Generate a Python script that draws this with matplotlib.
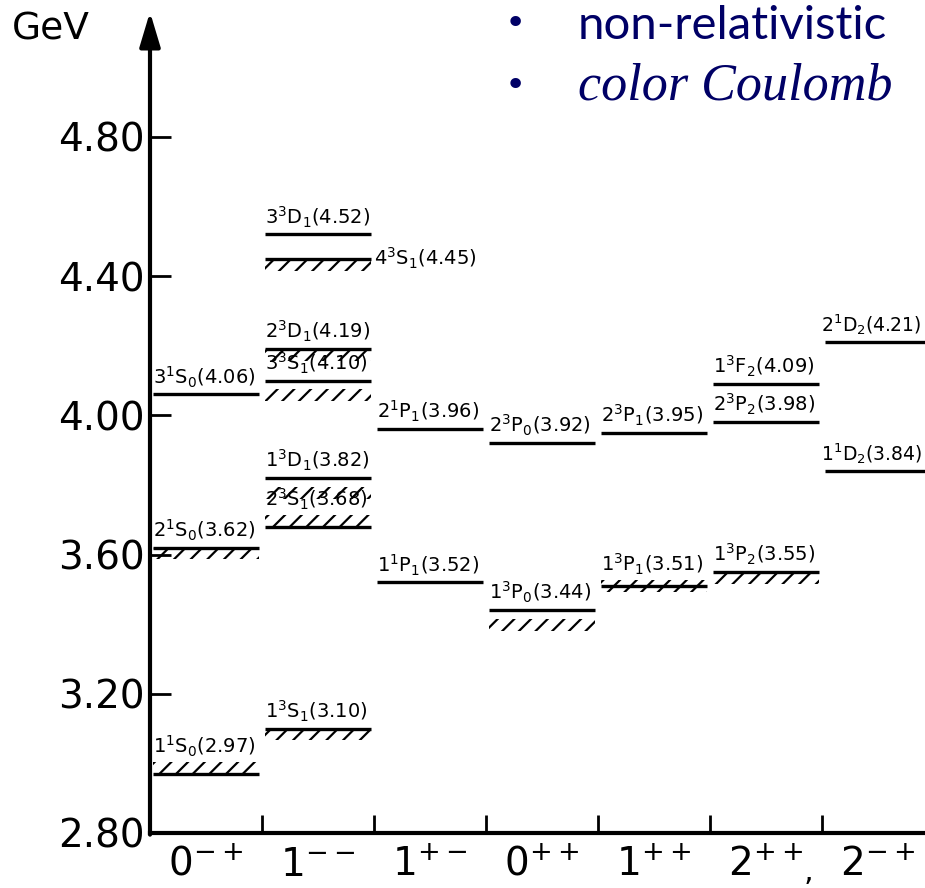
import matplotlib
matplotlib.use("Agg")
import matplotlib.pyplot as plt
from matplotlib.patches import Rectangle

plt.rcParams['font.family'] = ['DejaVu Sans']
plt.rcParams['mathtext.fontset'] = 'dejavusans'
plt.rcParams['hatch.linewidth'] = 1.6

# ---- data ----
categories = ['0$^{-+}$', '1$^{--}$', '1$^{+-}$', '0$^{++}$', '1$^{++}$', '2$^{++}$', '2$^{-+}$']
yticks = [2.80, 3.20, 3.60, 4.00, 4.40, 4.80]
ytick_labels = ['2.80', '3.20', '3.60', '4.00', '4.40', '4.80']

state_col = [0, 0, 0,
             1, 1, 1, 1, 1, 1, 1,
             2, 2,
             3, 3,
             4, 4,
             5, 5, 5,
             6, 6]
state_label = [r'1$^1$S$_0$(2.97)', r'2$^1$S$_0$(3.62)', r'3$^1$S$_0$(4.06)',
               r'1$^3$S$_1$(3.10)', r'2$^3$S$_1$(3.68)', r'1$^3$D$_1$(3.82)', r'3$^3$S$_1$(4.10)',
               r'2$^3$D$_1$(4.19)', r'4$^3$S$_1$(4.45)', r'3$^3$D$_1$(4.52)',
               r'1$^1$P$_1$(3.52)', r'2$^1$P$_1$(3.96)',
               r'1$^3$P$_0$(3.44)', r'2$^3$P$_0$(3.92)',
               r'1$^3$P$_1$(3.51)', r'2$^3$P$_1$(3.95)',
               r'1$^3$P$_2$(3.55)', r'2$^3$P$_2$(3.98)', r'1$^3$F$_2$(4.09)',
               r'1$^1$D$_2$(3.84)', r'2$^1$D$_2$(4.21)']
state_mass = [2.97, 3.62, 4.06,
              3.10, 3.68, 3.82, 4.10, 4.19, 4.45, 4.52,
              3.52, 3.96,
              3.44, 3.92,
              3.51, 3.95,
              3.55, 3.98, 4.09,
              3.84, 4.21]
# experimental band placement relative to the level
state_hatch = ['above', 'below', None,
               'below', 'above', 'below_gap', 'below_gap', 'below', 'below', None,
               None, None,
               'below_gap', None,
               'through', None,
               'below', None, None,
               None, None]
label_side = ['above', 'above', 'above',
              'above', 'above', 'above', 'above', 'above', 'right', 'above',
              'above', 'above',
              'above', 'above',
              'above', 'above',
              'above', 'above', 'above',
              'above', 'above']

# ---- figure ----
W, H = 925, 888
fig = plt.figure(figsize=(W / 100, H / 100), dpi=100)
ax = fig.add_axes([150 / W, 1 - 833 / H, 775 / W, (833 - 12) / H])
ax.set_xlim(0, 6.92)
ax.set_ylim(2.80, 5.159)

band = 0.034
gap = 0.025
for c, lab, m, hk, side in zip(state_col, state_label, state_mass, state_hatch, label_side):
    x0, x1 = c + 0.03, c + 0.97
    ax.plot([x0, x1], [m, m], color='black', lw=2.4, solid_capstyle='butt')
    lab_y = m + 0.014
    if hk is not None:
        if hk == 'above':
            y0 = m
            lab_y = m + band + 0.008
        elif hk == 'below':
            y0 = m - band
        elif hk == 'below_gap':
            y0 = m - gap - band
        else:  # through
            y0 = m - band / 2
            lab_y = m + band / 2 + 0.01
        ax.add_patch(Rectangle((x0, y0), x1 - x0, band, fill=False, hatch='//',
                               lw=0, edgecolor='black'))
    if side == 'above':
        if c == 6:
            ax.text(c - 0.01, lab_y, lab, fontsize=13.5, ha='left', va='bottom')
        else:
            ax.text(c + 0.03, lab_y, lab, fontsize=14, ha='left', va='bottom')
    else:
        ax.text(c + 1.0, m, lab, fontsize=14, ha='left', va='center')

# axes styling
for s in ['top', 'right', 'left']:
    ax.spines[s].set_visible(False)
ax.spines['bottom'].set_linewidth(3)
ax.annotate('', xy=(0, 1.0), xytext=(0, -0.002), xycoords='axes fraction',
            textcoords='axes fraction',
            arrowprops=dict(arrowstyle='-|>,head_length=1.5,head_width=0.45',
                            lw=3, color='black', mutation_scale=14,
                            shrinkA=0, shrinkB=0), annotation_clip=False)

ax.set_yticks(yticks)
ax.set_yticklabels(ytick_labels, fontsize=28)
ax.tick_params(axis='y', direction='in', length=15, width=2, pad=4)

ax.set_xticks(range(1, 7))
ax.set_xticklabels([])
ax.tick_params(axis='x', which='major', direction='in', length=13, width=2)
ax.set_xticks([i + 0.5 for i in range(7)], minor=True)
ax.set_xticklabels(categories, minor=True, fontsize=28)
ax.tick_params(axis='x', which='minor', length=0, pad=9)

fig.text(12 / W, 1 - 30 / H, 'GeV', fontsize=27, ha='left', va='center')
ax.text(5.88, 2.69, ',', fontsize=22, ha='center', va='center')

navy = '#000066'
fig.text(515 / W, 1 - 24 / H, '\u2022', fontsize=26, color=navy, ha='center', va='center')
fig.text(578 / W, 1 - 39 / H, 'non-relativistic', fontsize=34, color=navy,
         ha='left', va='baseline', family='Lato')
fig.text(515 / W, 1 - 86 / H, '\u2022', fontsize=26, color=navy, ha='center', va='center')
fig.text(578 / W, 1 - 99 / H, 'color Coulomb', fontsize=37.5, color=navy,
         ha='left', va='baseline', family='Liberation Serif', style='italic')

fig.savefig('out.png', dpi=100)
